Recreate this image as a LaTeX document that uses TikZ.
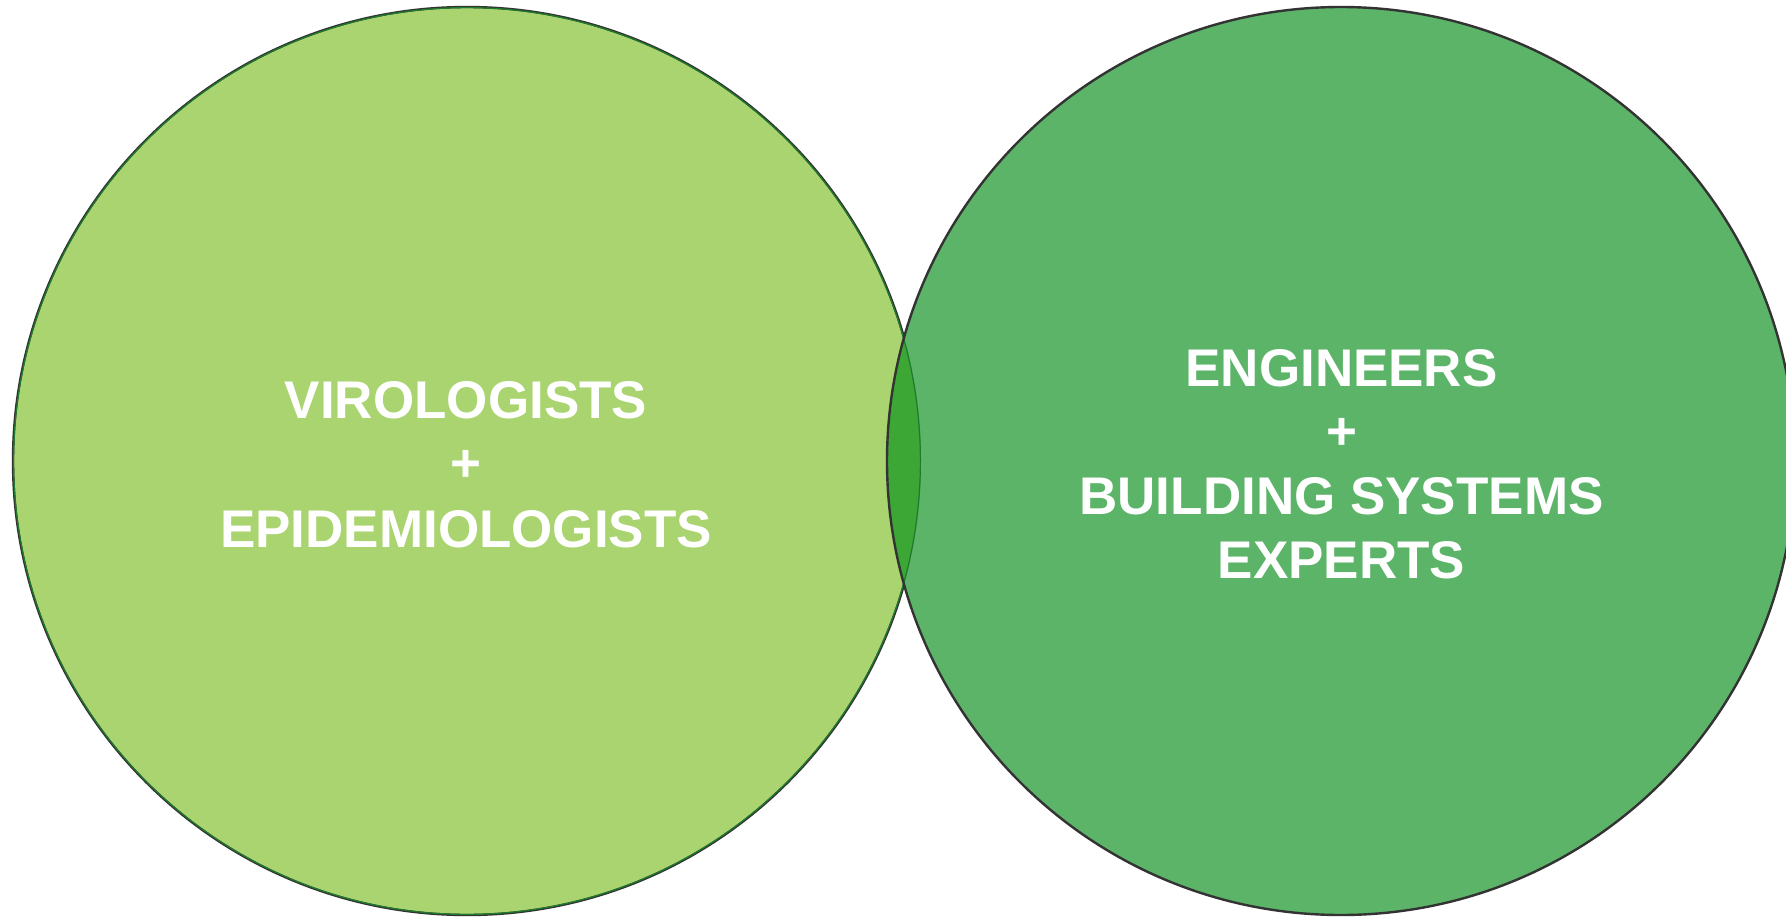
\documentclass[tikz,border=0pt]{standalone}
\usepackage{fontspec}
\setmainfont{Liberation Sans}
\definecolor{leftgreen}{HTML}{A9D46F}
\definecolor{rightgreen}{HTML}{5BB468}
\definecolor{lensgreen}{HTML}{3DA736}
\definecolor{rim}{HTML}{333333}
\definecolor{innerrim}{HTML}{1E7A2C}
\begin{document}
\begin{tikzpicture}[x=1pt,y=-1pt,
  lbl/.style={font=\fontsize{53}{64}\selectfont\bfseries, text=white, inner sep=0pt, anchor=base},
  rimline/.style={draw=rim, line width=2.4pt}]
\useasboundingbox (0,0) rectangle (1786,916);
\clip (0,0) rectangle (1786,916);
\coordinate (L) at (467,461);
\coordinate (R) at (1341,461);
% left circle
\fill[leftgreen] (L) circle[radius=454pt];
\draw[rimline] (L) circle[radius=454pt];
% right circle fill
\fill[rightgreen] (R) circle[radius=454pt];
% lens
\begin{scope}
  \clip (L) circle[radius=454pt];
  \fill[lensgreen] (R) circle[radius=454pt];
  \draw[innerrim, line width=2.4pt] (L) circle[radius=454pt];
\end{scope}
\draw[rimline] (R) circle[radius=454pt];
% left labels
\node[lbl] (l1) at (466,418) {VIROLOGISTS};
\node[lbl] (l2) at (466,481) {+};
\node[lbl] (l3) at (466,547) {EPIDEMIOLOGISTS};
% right labels
\node[lbl] (r1) at (1341.5,386) {ENGINEERS};
\node[lbl] (r2) at (1341.5,449) {+};
\node[lbl] (r3) at (1341.5,514) {BUILDING SYSTEMS};
\node[lbl] (r4) at (1341.5,578) {EXPERTS};
\end{tikzpicture}
\end{document}
